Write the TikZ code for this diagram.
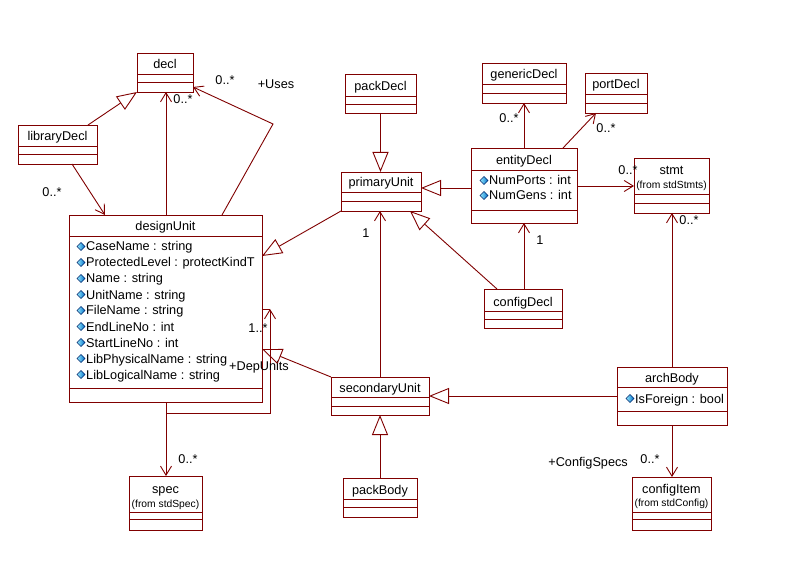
\documentclass[tikz,border=0pt]{standalone}
\usepackage{fontspec}
\setmainfont{Liberation Sans}
\usetikzlibrary{arrows.meta}
\definecolor{umlred}{RGB}{128,0,0}
\definecolor{dialight}{RGB}{150,235,255}
\definecolor{diadark}{RGB}{0,110,200}
\definecolor{diaedge}{RGB}{0,40,110}
\newcommand\umlbox[7]{%
  \node[box,minimum width={#4pt-#2pt},minimum height={#5pt-#3pt}] (#1) at (#2,#3) {};
  \draw[boxline] (#2,#6) -- (#4,#6) (#2,#7) -- (#4,#7);}
\newcommand\attrdia[2]{%
  \shade[left color=dialight,right color=diadark,draw=diaedge,line width=0.6pt]
    (#1-4,#2) -- (#1,#2-4) -- (#1+4,#2) -- (#1,#2+4) -- cycle;}
\begin{document}
\begin{tikzpicture}[x=1pt,y=-1pt,
  box/.style={draw=umlred,line width=0.9pt,rectangle,inner sep=0pt,outer sep=0pt,anchor=north west},
  boxline/.style={draw=umlred,line width=0.9pt},
  conn/.style={draw=umlred,line width=0.9pt},
  gen/.style={conn,-{Triangle[open,length=20pt,width=16pt,line width=0.9pt]}},
  assoc/.style={conn,-{Straight Barb[length=9pt,width=11pt,line width=0.9pt]}},
  cname/.style={anchor=base,inner sep=0pt,font=\fontsize{12.7}{14}\selectfont},
  cfrom/.style={anchor=base,inner sep=0pt,font=\fontsize{10.3}{12}\selectfont},
  attr/.style={anchor=base west,inner sep=0pt,font=\fontsize{12.7}{14}\selectfont},
  lbl/.style={anchor=base,inner sep=0pt,font=\fontsize{12.7}{14}\selectfont}]
\useasboundingbox[fill=white] (0,0) rectangle (795,577);

% ---- class boxes ----
\umlbox{decl}{137}{53}{193}{92}{74}{82}
\umlbox{libraryDecl}{18}{125}{97}{164}{146}{154}
\umlbox{designUnit}{69}{215}{262}{402}{236}{388}
\umlbox{packDecl}{345}{74}{416}{113}{96}{104}
\umlbox{genericDecl}{482}{63}{566}{103}{84}{93}
\umlbox{portDecl}{585}{73}{647}{113}{94}{103}
\umlbox{primaryUnit}{341}{172}{421}{211}{192}{201}
\umlbox{entityDecl}{471}{148}{577}{223}{170}{210}
\umlbox{stmt}{634}{158}{709}{213}{194}{203}
\umlbox{configDecl}{484}{289}{562}{328}{311}{319}
\umlbox{secondaryUnit}{331}{377}{429}{415}{397}{406}
\umlbox{archBody}{617}{367}{727}{425}{387}{411}
\umlbox{spec}{129}{476}{202}{530}{512}{519}
\umlbox{packBody}{343}{478}{417}{517}{499}{507}
\umlbox{configItem}{632}{477}{711}{530}{512}{519}

% ---- class names ----
\node[cname] (n-decl) at (165,69) {decl};
\node[cname] (n-libraryDecl) at (57.5,141) {libraryDecl};
\node[cname] (n-designUnit) at (165.5,231) {designUnit};
\node[cname] (n-packDecl) at (380.5,91) {packDecl};
\node[cname] (n-genericDecl) at (524,79) {genericDecl};
\node[cname] (n-portDecl) at (616,89) {portDecl};
\node[cname] (n-primaryUnit) at (381,187) {primaryUnit};
\node[cname] (n-entityDecl) at (524,165) {entityDecl};
\node[cname] (n-stmt) at (671.5,175) {stmt};
\node[cfrom] (f-stmt) at (671.5,189) {(from stdStmts)};
\node[cname] (n-configDecl) at (523,306) {configDecl};
\node[cname] (n-secondaryUnit) at (380,392) {secondaryUnit};
\node[cname] (n-archBody) at (672,382) {archBody};
\node[cname] (n-spec) at (165.5,493) {spec};
\node[cfrom] (f-spec) at (165.5,507) {(from stdSpec)};
\node[cname] (n-packBody) at (380,494) {packBody};
\node[cname] (n-configItem) at (671.5,493) {configItem};
\node[cfrom] (f-configItem) at (671.5,506) {(from stdConfig)};

% ---- attributes ----
\foreach \t [count=\i from 0] in {CaseName : string,ProtectedLevel : protectKindT,Name : string,UnitName : string,FileName : string,EndLineNo : int,StartLineNo : int,LibPhysicalName : string,LibLogicalName : string}{
  \attrdia{81}{246.5+16*\i}
  \node[attr] (a-du-\i) at (86,251+16*\i) {\t};
}
\attrdia{484}{180.5}
\node[attr] (a-ed-0) at (489,185) {NumPorts : int};
\attrdia{484}{195.5}
\node[attr] (a-ed-1) at (489,200) {NumGens : int};
\attrdia{630}{398.5}
\node[attr] (a-ab-0) at (635,403) {IsForeign : bool};

% ---- connectors ----
\draw[gen] ([xshift=70pt]libraryDecl.north west) -- (decl.south west);
\draw[assoc] ([xshift=54pt]libraryDecl.south west) -- ([xshift=36pt]designUnit.north west);
\draw[assoc] ([xshift=97pt]designUnit.north west) -- ([xshift=29pt]decl.south west);
\coordinate (usesbend) at (273,124);
\draw[assoc] ([xshift=153pt]designUnit.north west) -- (usesbend) -- ([yshift=-34pt]decl.north east);
\draw[assoc] ([xshift=97pt]designUnit.south west) -- ([xshift=37pt]spec.north west);
\coordinate (loopA) at (166,413);
\coordinate (loopB) at (270,413);
\coordinate (loopC) at (270,309);
\draw[conn] ([yshift=-94pt]designUnit.north east) -- (loopC);
\draw[assoc] ([xshift=97pt]designUnit.south west) -- (loopA) -- (loopB) -- (loopC);
\draw[gen] (primaryUnit.south west) -- ([yshift=-41pt]designUnit.north east);
\draw[gen] (secondaryUnit.north west) -- ([yshift=-134pt]designUnit.north east);
\draw[gen] (packDecl.south) -- (packDecl.south |- primaryUnit.north);
\draw[gen] ([yshift=-40pt]entityDecl.north west) -- ([yshift=-16pt]primaryUnit.north east);
\draw[assoc] (entityDecl.north) -- (entityDecl.north |- genericDecl.south);
\draw[assoc] ([xshift=92pt]entityDecl.north west) -- ([xshift=11pt]portDecl.south west);
\draw[assoc] ([yshift=-38pt]entityDecl.north east) -- ([yshift=-28pt]stmt.north west);
\draw[assoc] ([xshift=40pt]configDecl.north west) -- (entityDecl.south);
\draw[gen] ([xshift=13pt]configDecl.north west) -- ([xshift=-11pt]primaryUnit.south east);
\draw[assoc] (secondaryUnit.north) -- (secondaryUnit.north |- primaryUnit.south);
\draw[gen] (packBody.north) -- (packBody.north |- secondaryUnit.south);
\draw[gen] ([yshift=-29pt]archBody.north west) -- ([yshift=-19pt]secondaryUnit.north east);
\draw[assoc] (archBody.north) -- (archBody.north |- stmt.south);
\draw[assoc] (archBody.south) -- (archBody.south |- configItem.north);

% ---- role / multiplicity labels ----
\node[lbl] (m1) at (225,85) {0..*};
\node[lbl] (r-uses) at (276,89) {+Uses};
\node[lbl] (m2) at (183,104) {0..*};
\node[lbl] (m3) at (52,197) {0..*};
\node[lbl] (m4) at (258,332.5) {1..*};
\node[lbl] (r-dep) at (259,370) {+DepUnits};
\node[lbl] (m5) at (366,238) {1};
\node[lbl] (m6) at (540,245) {1};
\node[lbl] (m7) at (509,123) {0..*};
\node[lbl] (m8) at (606,133) {0..*};
\node[lbl] (m9) at (628,175) {0..*};
\node[lbl] (m10) at (689,225) {0..*};
\node[lbl] (m11) at (188,463) {0..*};
\node[lbl,anchor=base east] (r-cfg) at (628,466) {+ConfigSpecs};
\node[lbl] (m12) at (650,463) {0..*};
\end{tikzpicture}
\end{document}
